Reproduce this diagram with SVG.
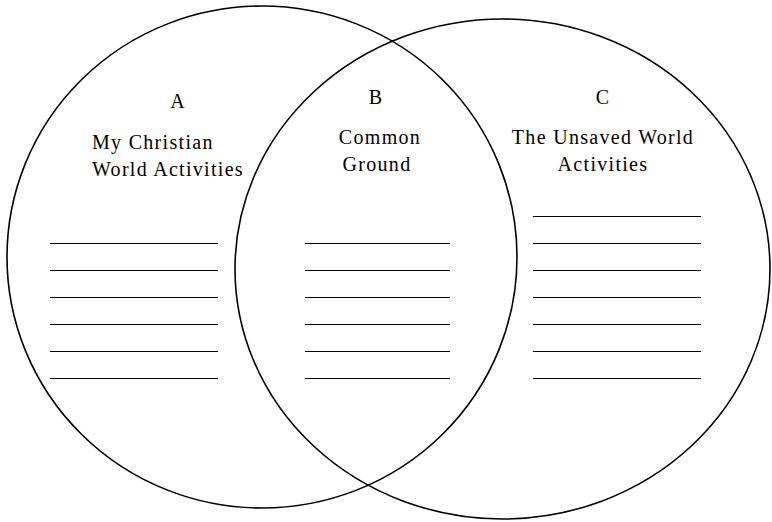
<svg xmlns="http://www.w3.org/2000/svg" width="772" height="522" viewBox="0 0 772 522">
<style>
.c{fill:none;stroke:#000;stroke-width:1.6}
.l{stroke:#000;stroke-width:1;shape-rendering:crispEdges}
text{font-family:"Liberation Serif","Times New Roman",serif;font-size:20px;fill:#000;letter-spacing:1.3px}
.m{text-anchor:middle}
</style>
<rect width="772" height="522" fill="#fff"/>
<g id="circleA">
<ellipse class="c" cx="262" cy="257" rx="255" ry="251"/>
<text class="m" x="178" y="108">A</text>
<text x="92" y="149">My Christian</text>
<text x="92" y="176">World Activities</text>
<g class="l">
<line x1="50" y1="243.5" x2="218" y2="243.5"/>
<line x1="50" y1="270.5" x2="218" y2="270.5"/>
<line x1="50" y1="297.5" x2="218" y2="297.5"/>
<line x1="50" y1="324.5" x2="218" y2="324.5"/>
<line x1="50" y1="351.5" x2="218" y2="351.5"/>
<line x1="50" y1="378.5" x2="218" y2="378.5"/>
</g>
</g>
<g id="circleC">
<ellipse class="c" cx="502.5" cy="269" rx="267.5" ry="250"/>
<text class="m" x="603" y="104">C</text>
<text class="m" x="603" y="144">The Unsaved World</text>
<text class="m" x="603" y="171">Activities</text>
<g class="l">
<line x1="533" y1="216.5" x2="701" y2="216.5"/>
<line x1="533" y1="243.5" x2="701" y2="243.5"/>
<line x1="533" y1="270.5" x2="701" y2="270.5"/>
<line x1="533" y1="297.5" x2="701" y2="297.5"/>
<line x1="533" y1="324.5" x2="701" y2="324.5"/>
<line x1="533" y1="351.5" x2="701" y2="351.5"/>
<line x1="533" y1="378.5" x2="701" y2="378.5"/>
</g>
</g>
<g id="regionB">
<text class="m" x="376" y="104">B</text>
<text class="m" x="380" y="144">Common</text>
<text class="m" x="377" y="171">Ground</text>
<g class="l">
<line x1="305" y1="243.5" x2="450" y2="243.5"/>
<line x1="305" y1="270.5" x2="450" y2="270.5"/>
<line x1="305" y1="297.5" x2="450" y2="297.5"/>
<line x1="305" y1="324.5" x2="450" y2="324.5"/>
<line x1="305" y1="351.5" x2="450" y2="351.5"/>
<line x1="305" y1="378.5" x2="450" y2="378.5"/>
</g>
</g>
<g id="connectors"></g>
</svg>
